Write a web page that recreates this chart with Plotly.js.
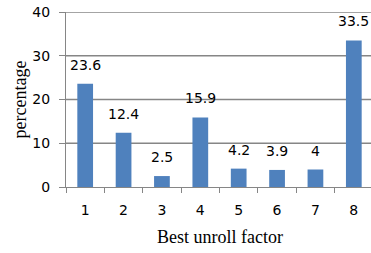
<!DOCTYPE html>
<html>
<head>
<meta charset="utf-8">
<script src="https://cdn.plot.ly/plotly-3.0.1.min.js"></script>
<style>
html,body{margin:0;padding:0;overflow:hidden;background:#fff;}
#chart{width:374px;height:253px;}
</style>
</head>
<body>
<div id="chart"></div>
<script>
const categories = ['1','2','3','4','5','6','7','8'];
const values = [23.6, 12.4, 2.5, 15.9, 4.2, 3.9, 4, 33.5];
const valueLabels = ['23.6','12.4','2.5','15.9','4.2','3.9','4','33.5'];
const yTicks = [0, 10, 20, 30, 40];
const xTitle = 'Best unroll factor';
const yTitle = 'percentage';

const gridColor = '#868686';
const sans = 'DejaVu Sans';
const serif = 'Liberation Serif';

const trace = {
  type: 'bar',
  x: categories,
  y: values,
  marker: {color: '#4F81BD'},
  hoverinfo: 'none'
};

const annotations = categories.map((c, i) => ({
  x: i, y: values[i], xref: 'x', yref: 'y',
  text: valueLabels[i], showarrow: false,
  yanchor: 'bottom', yshift: 9,
  font: {family: sans, size: 14, color: '#000'}
}));
annotations.push({
  x: 0.5, y: 0, xref: 'paper', yref: 'paper',
  xanchor: 'center', yanchor: 'top', yshift: -38,
  text: xTitle, showarrow: false,
  font: {family: serif, size: 18, color: '#000'}
});
annotations.push({
  x: 0, y: 0.5, xref: 'paper', yref: 'paper',
  xanchor: 'center', yanchor: 'middle', xshift: -47,
  textangle: -90,
  text: yTitle, showarrow: false,
  font: {family: serif, size: 18, color: '#000'}
});

const shapes = yTicks.slice(1).map(v => ({
  type: 'line', xref: 'x', yref: 'y',
  x0: -0.5, x1: categories.length - 0.5, y0: v, y1: v,
  layer: 'between',
  line: {color: gridColor, width: 1.3}
}));

const layout = {
  width: 374, height: 253,
  margin: {l: 66, r: 1, t: 12, b: 66},
  paper_bgcolor: '#ffffff', plot_bgcolor: '#ffffff',
  showlegend: false,
  bargap: 0.59,
  xaxis: {
    type: 'category',
    categoryorder: 'array', categoryarray: categories,
    range: [-0.5, categories.length - 0.5], autorange: false,
    showline: true, linecolor: gridColor, linewidth: 1,
    ticks: 'outside', tickson: 'boundaries', ticklen: 5, tickcolor: gridColor,
    tickfont: {family: sans, size: 14, color: '#000'},
    ticklabelstandoff: 10,
    showgrid: false, zeroline: false,
    automargin: false
  },
  yaxis: {
    range: [0, 40], autorange: false,
    tickmode: 'array', tickvals: yTicks, ticktext: yTicks.map(String),
    showline: true, linecolor: gridColor, linewidth: 1,
    ticks: 'outside', ticklen: 6, tickcolor: gridColor,
    showgrid: true, gridcolor: gridColor, gridwidth: 1.3,
    zeroline: false,
    tickfont: {family: sans, size: 14, color: '#000'},
    ticklabelstandoff: 6,
    automargin: false
  },
  shapes: shapes,
  annotations: annotations
};

Plotly.newPlot('chart', [trace], layout, {displayModeBar: false, staticPlot: true});
</script>
</body>
</html>
